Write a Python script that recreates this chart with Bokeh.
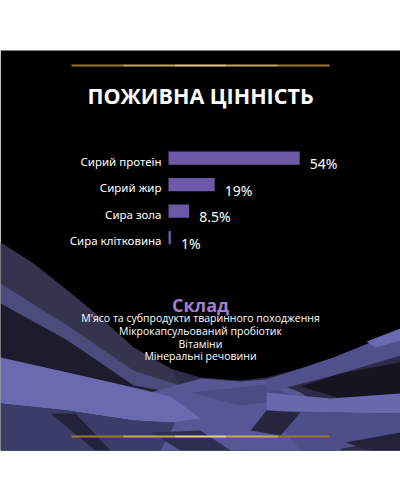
from bokeh.plotting import figure
from bokeh.models import Range1d
from bokeh.core.properties import value
from bokeh.embed import file_html
from bokeh.resources import INLINE

# ---- data ----
categories = ["Сирий протеїн", "Сирий жир", "Сира зола", "Сира клітковина"]
values = [54, 19, 8.5, 1]
value_labels = ["54%", "19%", "8.5%", "1%"]
title_text = "ПОЖИВНА ЦІННІСТЬ"
section_title = "Склад"
ingredients = [
    "М'ясо та субпродукти тваринного походження",
    "Мікрокапсульований пробіотик",
    "Вітаміни",
    "Мінеральні речовини",
]

# ---- figure in page-pixel coordinates ----
W, H = 400, 500
p = figure(width=W, height=H, output_backend="svg", toolbar_location=None,
           x_range=Range1d(0, W), y_range=Range1d(H, 0),
           min_border=0, outline_line_color=None, background_fill_color="white",
           border_fill_color="white")
p.axis.visible = False
p.grid.visible = False

# black panel
p.quad(left=0, right=400, top=50, bottom=450, fill_color="#000000", line_color=None)

# decorative waves (approximation of background artwork)
waves = [
    # base area under the black
    ("#2c2c48", [0, 33, 67, 100, 133, 170, 200, 240, 266, 300, 333, 370, 400, 400, 0],
                [242, 263, 290, 317, 347, 368, 377, 380, 377, 368, 357, 342, 328, 450, 450]),
    # top-left grey band
    ("#34344f", [0, 33, 67, 100, 133, 170, 180, 133, 67, 0],
                [242, 263, 290, 317, 347, 368, 385, 370, 325, 283]),
    # lighter band
    ("#4b4b7c", [0, 67, 133, 180, 190, 133, 67, 0],
                [283, 325, 370, 385, 395, 385, 340, 303]),
    # dark band
    ("#1c1c2e", [0, 67, 133, 180, 133, 67, 0],
                [303, 340, 385, 395, 387, 372, 357]),
    # center medium
    ("#575795", [150, 200, 240, 266, 300, 340, 340, 150],
                [392, 378, 381, 379, 392, 420, 450, 450]),
    ("#4a4a84", [190, 266, 300, 240], [392, 384, 398, 405]),
    # light band left
    ("#6a6ab0", [0, 67, 133, 170, 200, 170, 133, 67, 0],
                [357, 372, 387, 396, 418, 422, 420, 410, 403]),
    # bottom left
    ("#3c3c68", [0, 67, 133, 175, 160, 0],
                [403, 410, 420, 422, 450, 450]),
    ("#22223a", [50, 75, 110, 95], [413, 413, 450, 450]),
    ("#2e2e50", [150, 200, 230, 180], [432, 430, 450, 450]),
    # right upper band
    ("#50508c", [266, 300, 333, 370, 400, 400, 333, 266],
                [379, 368, 357, 342, 328, 355, 375, 392]),
    ("#6a6ab0", [366, 400, 400, 375], [341, 328, 340, 347]),
    # right dark wedge
    ("#151522", [300, 340, 400, 400, 340], [386, 373, 362, 393, 398]),
    # right light band
    ("#6868ac", [266, 330, 400, 400, 330, 266], [392, 398, 393, 413, 412, 410]),
    # bottom right
    ("#4e4e88", [266, 330, 400, 400, 330, 300], [410, 412, 413, 438, 450, 450]),
    ("#262640", [266, 300, 280, 250], [410, 412, 435, 430]),
    ("#222238", [345, 400, 400, 370], [442, 432, 450, 450]),
]
p.patches(xs=[w[1] for w in waves], ys=[w[2] for w in waves],
          fill_color=[w[0] for w in waves], line_color=None)

# gold rules
gold = ["#9c7733", "#c9a55e", "#e6cf94", "#c9a55e", "#9c7733"]
for yy in (65, 436):
    xs = [71 + i * (258 / 5) for i in range(6)]
    p.segment(x0=xs[:-1], x1=xs[1:], y0=[yy] * 5, y1=[yy] * 5, line_color=gold, line_width=2)

# title
p.text(x=[200], y=[95], text=[title_text], text_align="center", text_baseline="alphabetic",
       text_font=value("Open Sans"), text_font_style="bold", text_font_size="21.5px",
       text_color="#ffffff")

# ---- bars via own scales ----
px_per_pct = 2.43
x0_page = 168
p.extra_x_ranges["pct"] = Range1d((0 - x0_page) / px_per_pct, (W - x0_page) / px_per_pct)
row0, row_step = 157.5, 26.5
p.extra_y_ranges["row"] = Range1d((H - row0) / row_step, (0 - row0) / row_step)
rows = list(range(len(categories)))

p.hbar(y=rows, left=0, right=values, height=0.5, x_range_name="pct", y_range_name="row",
       fill_color="#6c5aa8", line_color=None)
p.text(x=[0] * len(rows), y=rows, text=categories, x_range_name="pct", y_range_name="row",
       x_offset=-7, y_offset=3.3, text_align="right", text_baseline="alphabetic",
       text_font=value("Noto Sans"), text_font_size="11.5px", text_color="#ffffff")
p.text(x=values, y=rows, text=value_labels, x_range_name="pct", y_range_name="row",
       x_offset=10, y_offset=5.8, text_align="left", text_baseline="alphabetic",
       text_font=value("Noto Sans"), text_font_size="14px", text_color="#ffffff")

# composition section
p.text(x=[200], y=[304.5], text=[section_title], text_align="center", text_baseline="alphabetic",
       text_font=value("Open Sans"), text_font_style="bold", text_font_size="18px",
       text_color="#a27ed0")
p.text(x=[200] * len(ingredients), y=[317.5 + 12.8 * i for i in range(len(ingredients))],
       text=ingredients, text_align="center", text_baseline="alphabetic",
       text_font=value("Open Sans"), text_font_size="10.5px", text_color="#ffffff")

open("out.html", "w").write(file_html(p, INLINE))
